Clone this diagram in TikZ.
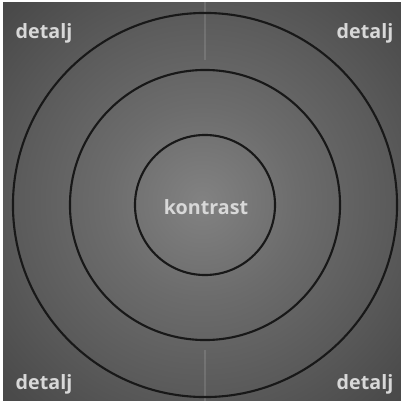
\documentclass[tikz,border=0pt]{standalone}
\usepackage{fontspec}
\setmainfont{Open Sans}
\usepackage{xcolor}
\definecolor{specCentre}{HTML}{828282}
\definecolor{specInner}{HTML}{6C6C6C}
\definecolor{specMid}{HTML}{5A5A5A}
\definecolor{specOuter}{HTML}{4A4A4A}
\definecolor{specEdge}{HTML}{3E3E3E}
\definecolor{ringLine}{HTML}{181818}
\definecolor{labelGrey}{HTML}{D8D8D8}
\pgfdeclareradialshading{spectrum}{\pgfpoint{0bp}{0bp}}{color(0bp)=(specCentre); color(12bp)=(specInner); color(24bp)=(specMid); color(34bp)=(specOuter); color(50bp)=(specEdge)}
\tikzset{
  ring/.style={circle, draw=ringLine, line width=1.5pt, inner sep=0pt, minimum size=#1},
  bandlabel/.style={font=\fontsize{14}{17}\selectfont\bfseries, text=labelGrey, inner sep=0pt},
  streak/.style={draw=white, opacity=0.12, line width=1pt},
}
\begin{document}
\begin{tikzpicture}[x=0.025cm,y=-0.025cm]
  \useasboundingbox (0,0) rectangle (401,401);
  \fill[white] (0,0) rectangle (401,401);
  \shade[shading=spectrum] (3,2) rectangle (401,401);

  \coordinate (mid) at (205,205);
  \draw[streak] (205,2) -- (205,60);
  \draw[streak] (205,350) -- (205,401);

  \node[ring=3.5cm] (inner) at (mid) {};
  \node[ring=6.75cm] (middle) at (mid) {};
  \node[ring=9.6cm] (outer) at (mid) {};

  \node[bandlabel] (kontrast) at (206,207) {kontrast};
  \node[bandlabel, anchor=base] (tl) at (44,38) {detalj};
  \node[bandlabel, anchor=base] (tr) at (365,38) {detalj};
  \node[bandlabel, anchor=base] (bl) at (44,389) {detalj};
  \node[bandlabel, anchor=base] (br) at (365,389) {detalj};
\end{tikzpicture}
\end{document}
